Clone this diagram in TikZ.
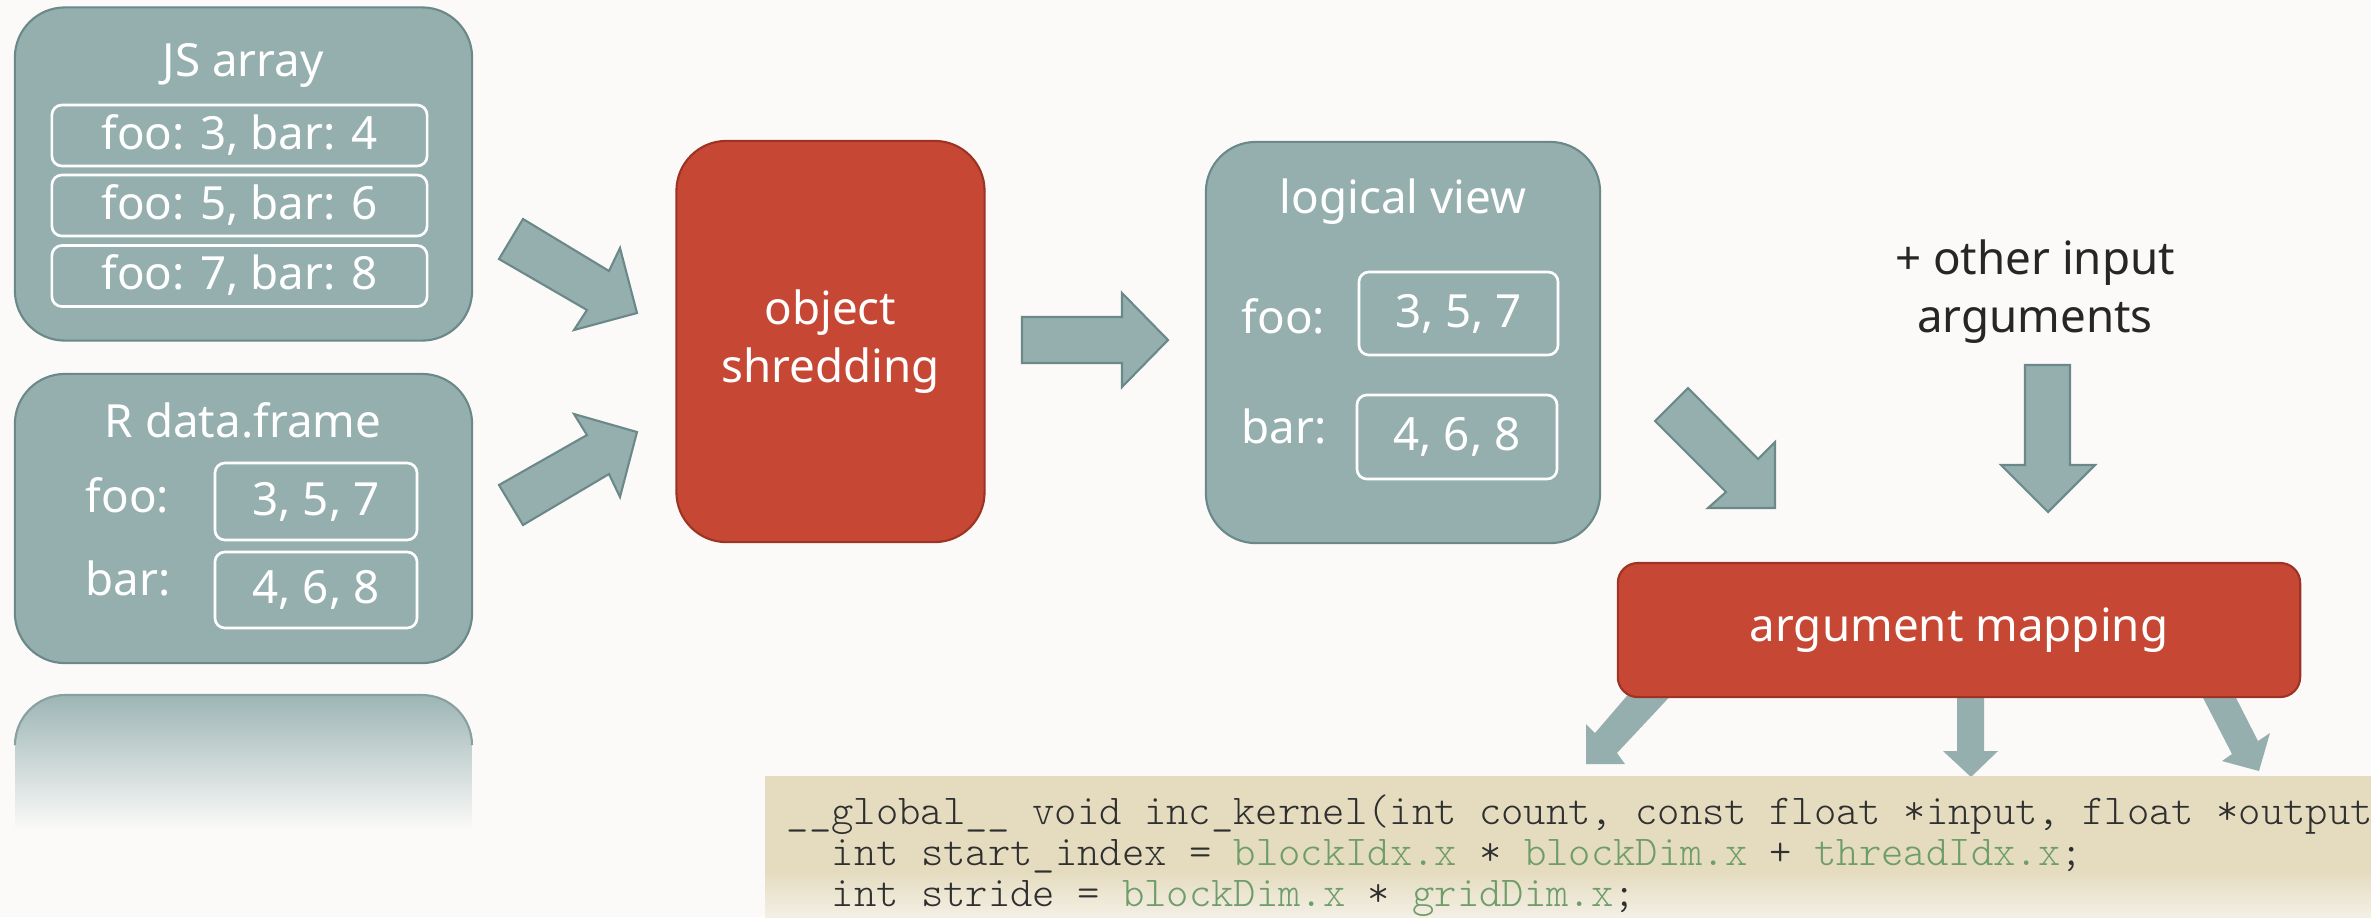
\documentclass[tikz,border=0pt]{standalone}
\usepackage{fontspec}
\usepackage{xcolor}
\setmainfont{Noto Sans}
\newfontfamily\codefont{Latin Modern Mono Light}
\usetikzlibrary{positioning}

\definecolor{pagebg}{HTML}{FBFAF8}
\definecolor{tealfill}{HTML}{95AFAF}
\definecolor{tealline}{HTML}{6B8989}
\definecolor{shredred}{HTML}{C64733}
\definecolor{shredline}{HTML}{9C3324}
\definecolor{codebg}{HTML}{E5DCC0}
\definecolor{codegreen}{HTML}{6E9C6A}
\definecolor{codetext}{HTML}{2F2F2F}
\definecolor{plaintext}{HTML}{262626}

\newcommand{\cudavar}[1]{\textcolor{codegreen}{#1}}

\begin{document}
\begin{tikzpicture}[x=0.01cm,y=-0.01cm,
		every node/.style={font=\fontsize{13}{16.5}\selectfont},
		bigbox/.style={draw=tealline,fill=tealfill,line width=0.6pt,rounded corners=0.5cm,inner sep=0pt},
		redbox/.style={draw=shredline,fill=shredred,line width=0.6pt,inner sep=0pt,text=white,align=center},
		valbox/.style={draw=white,line width=0.75pt,rounded corners=0.1cm,inner sep=0pt,text=white,text height=0.34cm,text depth=0.07cm},
		lbl/.style={text=white,inner sep=0pt},
		blockarrow/.style={fill=tealfill,draw=tealline,line width=0.6pt},
		flatarrow/.style={fill=tealfill},
		code/.style={font=\codefont\fontsize{12.1}{13}\selectfont,text=codetext,inner sep=0pt,anchor=base west}]

	\useasboundingbox[fill=pagebg] (0,0) rectangle (2371,917);

	% inputs on the left
	\node[bigbox,minimum width=4.57cm,minimum height=3.33cm] (jsarray) at (243.5,174) {};
	\node[lbl,anchor=base] (jstitle) at (243,76) {JS array};
	\foreach \txt/\yy [count=\i] in {{foo: 3, bar: 4}/135.5,{foo: 5, bar: 6}/205.5,{foo: 7, bar: 8}/276}
		\node[valbox,minimum width=3.75cm,minimum height=0.61cm] (jsrow\i) at (239.5,\yy) {\txt};

	\node[bigbox,minimum width=4.57cm,minimum height=2.89cm] (rframe) at (243.5,518.5) {};
	\node[lbl,anchor=base] (rtitle) at (243,437) {R data.frame};
	\node[lbl,anchor=base west] (rfoo) at (85,512) {foo:};
	\node[lbl,anchor=base west] (rbar) at (85,595) {bar:};
	\node[valbox,minimum width=2.02cm,minimum height=0.77cm] (rfoovals) at (316,501.5) {3, 5, 7};
	\node[valbox,minimum width=2.02cm,minimum height=0.76cm] (rbarvals) at (316,590) {4, 6, 8};

	% mirrored copy of the R box
	\shade[top color=tealfill!92!pagebg,bottom color=pagebg] (15,830) {[rounded corners=0.5cm] -- (15,695) -- (472,695)} -- (472,830) -- cycle;
	\draw[tealline!80!pagebg,line width=0.6pt] (15,745) {[rounded corners=0.5cm] -- (15,695) -- (472,695)} -- (472,745);

	% shredding
	\node[redbox,rounded corners=0.5cm,minimum width=3.08cm,minimum height=4.01cm] (shred) at (830.5,341.5) {object\\shredding};
	\draw[blockarrow] (499,259) -- (523,219) -- (609,271) -- (620,248) -- (637,313) -- (574,330) -- (587,310) -- cycle;
	\draw[blockarrow] (499,485) -- (587,435) -- (574,414) -- (637,432) -- (620,497) -- (609,474) -- (523,525) -- cycle;
	\draw[blockarrow] (1022,317) -- (1122,317) -- (1122,293) -- (1168,340) -- (1122,387) -- (1122,363) -- (1022,363) -- cycle;

	% logical view
	\node[bigbox,minimum width=3.94cm,minimum height=4.01cm] (logview) at (1403,342.5) {};
	\node[lbl,anchor=base] (logtitle) at (1403,213) {logical view};
	\node[lbl,anchor=base west] (logfoo) at (1241,333) {foo:};
	\node[lbl,anchor=base west] (logbar) at (1241,443) {bar:};
	\node[valbox,minimum width=1.99cm,minimum height=0.83cm] (logfoovals) at (1458.5,313.5) {3, 5, 7};
	\node[valbox,minimum width=2.00cm,minimum height=0.84cm] (logbarvals) at (1457,437) {4, 6, 8};

	\node[text=plaintext,align=center] (otherargs) at (2035,292) {+ other input\\arguments};
	\draw[blockarrow] (1655,421) -- (1688,388) -- (1758,459) -- (1775,442) -- (1775,508) -- (1708,508) -- (1726,492) -- cycle;
	\draw[blockarrow] (2025,365) -- (2070,365) -- (2070,465) -- (2095,465) -- (2048,512) -- (2001,465) -- (2025,465) -- cycle;

	% argument mapping and the kernel
	\fill[flatarrow] (1632,690) -- (1595,733) -- (1586,724) -- (1586,764) -- (1625,764) -- (1617,753) -- (1676,690) -- cycle;
	\fill[flatarrow] (1957,690) -- (1984,690) -- (1984,751) -- (1998,751) -- (1971,777) -- (1943,751) -- (1957,751) -- cycle;
	\fill[flatarrow] (2199,690) -- (2232,754) -- (2222,761) -- (2259,771) -- (2270,733) -- (2258,741) -- (2232,690) -- cycle;
	\node[redbox,rounded corners=0.2cm,minimum width=6.82cm,minimum height=1.34cm] (argmap) at (1959,630) {argument mapping};

	\fill[codebg] (765,776) rectangle (2400,930);
	\shade[top color=codebg,bottom color=codebg!35!pagebg] (765,872) rectangle (2400,917);
	\node[code] (kline1) at (786,824) {\_\_global\_\_ void inc\_kernel(int count, const float *input, float *output};
	\node[code] (kline2) at (831,865) {int start\_index = \cudavar{blockIdx.x} * \cudavar{blockDim.x} + \cudavar{threadIdx.x};};
	\node[code] (kline3) at (831,906) {int stride = \cudavar{blockDim.x} * \cudavar{gridDim.x};};
\end{tikzpicture}
\end{document}
